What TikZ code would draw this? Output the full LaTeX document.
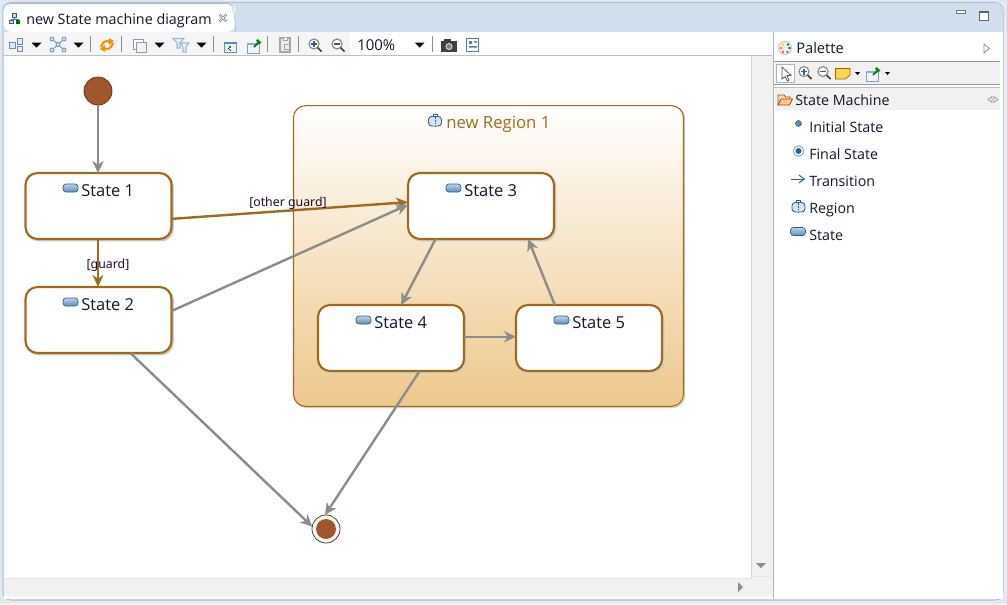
\documentclass[tikz,border=0pt]{standalone}
\usepackage{fontspec}
\setmainfont{Open Sans}
\newfontfamily\lblfont{Noto Sans}
\usetikzlibrary{arrows.meta,shadings}
\definecolor{brownline}{HTML}{A06A1C}
\definecolor{brownfill}{HTML}{A0572B}
\definecolor{brownedge}{HTML}{6E3310}
\definecolor{grayline}{HTML}{8C8C8C}
\definecolor{tabblue}{HTML}{CFDFEE}
\definecolor{winedge}{HTML}{B4BCCB}
\definecolor{barbg}{HTML}{F5F5F5}
\definecolor{scrollbg}{HTML}{F1F1F1}
\definecolor{regionbot}{HTML}{EEC88C}
\definecolor{icoblue}{HTML}{5B8DB8}
\definecolor{icodark}{HTML}{2F5F8F}
\definecolor{textdark}{HTML}{101828}
\definecolor{guardtxt}{HTML}{200830}
\newcommand{\fs}[1]{\fontsize{#1}{#1}\selectfont}
\tikzset{
  x=0.75pt,y=-0.75pt,
  statebox/.style={draw=brownline,line width=1.6pt,rounded corners=9pt,fill=white,
    minimum width=109.5pt,minimum height=49.5pt,inner sep=0pt,outer sep=0pt,
    preaction={draw=black!20,line width=1.5pt,transform canvas={xshift=1.1pt,yshift=-1.1pt}}},
  regionbox/.style={draw=brownline,line width=0.8pt,rounded corners=9pt,
    top color=white,bottom color=regionbot,minimum width=292.5pt,minimum height=225.5pt,inner sep=0pt,outer sep=0pt,
    preaction={draw=black!20,line width=0.8pt,transform canvas={xshift=0.9pt,yshift=-0.9pt}}},
  initstate/.style={circle,draw=brownedge,line width=0.6pt,fill=brownfill,minimum size=21pt,inner sep=0pt,outer sep=0pt},
  finalstate/.style={circle,draw=brownedge,line width=0.6pt,fill=white,minimum size=21pt,inner sep=0pt,outer sep=0pt},
  finaldot/.style={circle,draw=none,fill=brownfill,minimum size=15pt,inner sep=0pt},
  trans/.style={draw=grayline,line width=1.8pt,-{Stealth[length=9pt,width=8.5pt,inset=2.8pt]}},
  guardtrans/.style={draw=brownline,line width=1.8pt,-{Stealth[length=9pt,width=8pt,inset=2.8pt]}},
  titletext/.style={font=\fs{12.35},text=textdark,anchor=base west,inner sep=0pt},
  regiontext/.style={font=\fs{12.55},text=brownline,anchor=base west,inner sep=0pt},
  guardtext/.style={font=\lblfont\fs{9.25},text=guardtxt,inner sep=0pt},
  uitext/.style={font=\fs{10.7},text=textdark,anchor=base west,inner sep=0pt},
  sep/.style={draw=black!45,line width=0.6pt},
  stateicon/.pic={
    \draw[icodark,line width=0.5pt,rounded corners=2.2pt,top color=white!60!icoblue,bottom color=icoblue] (-7.5,-4) rectangle (7.5,4);
  },
  regionicon/.pic={
    \draw[icodark,line width=0.7pt,rounded corners=2.4pt,fill=icoblue!25] (-6.5,-4.5) rectangle (6.5,5);
    \draw[icodark,line width=0.6pt] (-2,-4.5) -- (-2,-6.5) -- (2,-6.5) -- (2,-4.5);
    \draw[icodark,line width=0.6pt,dash pattern=on 1.2pt off 1pt] (0,-4) -- (0,5);
  },
  dropdown/.pic={\fill[black] (-5,-2.5) -- (5,-2.5) -- (0,2.5) -- cycle;},
  zoomicon/.pic={
    \draw[black!45,line width=0.9pt,fill=white] (0,0) circle (5);
    \draw[black!55!brown,line width=1.3pt] (3.6,3.6) -- (7.5,7.5);
  },
  pinicon/.pic={
    \draw[icodark!60,line width=0.6pt,fill=icoblue!10] (-7,-3) rectangle (5,7);
    \fill[icoblue!70] (-7,-3) rectangle (5,-1.5);
    \draw[green!45!black,line width=1.2pt] (0,1) -- (5,-4);
    \fill[green!55!black] (3.5,-7) -- (7.5,-3.5) -- (5.5,-2) -- (2,-5) -- cycle;
  },
}
\begin{document}
\begin{tikzpicture}
\useasboundingbox (0,0) rectangle (1007,604);
% window
\fill[tabblue!65!white] (0,0) rectangle (1007,604);
\draw[winedge,line width=0.8pt,rounded corners=6pt,fill=white] (3,2.5) rectangle (1003,600);
\fill[tabblue,rounded corners=6pt] (3,3) -- (3,40) -- (1003,40) -- (1003,3) -- cycle;
\fill[white] (3.5,32) rectangle (1002.5,599);
\fill[white,rounded corners=6pt] (3.5,32) -- (3.5,4) -- (232,4) .. controls (234,6) and (235,10) .. (235,14) -- (235,32) -- cycle;
\draw[winedge,line width=0.5pt] (3.5,10) .. controls (3.5,5) and (5,3.5) .. (10,3.5) -- (227,3.5) .. controls (232,3.5) and (235,8) .. (235.5,31.5);
% tab
\node[titletext,font=\fs{10.75}] (tabtitle) at (26,24) {new State machine diagram};
\draw[icodark,line width=0.6pt,fill=icoblue!30] (12.5,13.5) rectangle (16,17);
\draw[icodark,line width=0.6pt,fill=icoblue!30] (9.5,20.5) rectangle (13,23);
\draw[green!40!black,line width=0.6pt,fill=green!50!black] (16,20.5) rectangle (19.5,23);
\draw[black!60,line width=0.5pt] (14,17) -- (14,19) (11,20.5) -- (11,19) -- (18,19) -- (18,20.5);
\draw[black!45,line width=1.6pt] (219.5,14.5) -- (226.5,21.5) (226.5,14.5) -- (219.5,21.5);
\draw[white,line width=0.5pt] (219.5,14.5) -- (226.5,21.5) (226.5,14.5) -- (219.5,21.5);
% window buttons
\draw[black!55,fill=white,line width=0.5pt] (956,10.5) rectangle (965,13.5);
\draw[black!60,fill=white,line width=0.6pt] (979,11) rectangle (988,20);
\draw[black!60,line width=1.3pt] (979,12) -- (988,12);
% toolbar
\fill[barbg] (4,32) rectangle (350,55);
\draw[black!25,line width=0.5pt] (4,55.5) -- (772,55.5);
\foreach \sx in {90.5,121.5,213.5,267.5,298.5,432.5}{\draw[sep] (\sx,36) -- (\sx,52);}
\foreach \dx in {36.5,78.5,159.5,201.5,419.5}{\pic at (\dx,45) {dropdown};}
% tool icons
\draw[icodark!70,line width=0.6pt,fill=icoblue!15] (9.5,42) rectangle (15,48);
\draw[icodark!70,line width=0.6pt,fill=icoblue!15] (17,38.5) rectangle (22.5,44);
\draw[icodark!70,line width=0.6pt,fill=icoblue!15] (17,46) rectangle (22.5,51.5);
\draw[icodark!70,line width=0.6pt] (52,39) -- (64,50) (64,39) -- (52,50);
\foreach \ix/\iy in {52/39,64/39,58/44.5,52/50,64/50}{\draw[icodark!70,line width=0.6pt,fill=icoblue!25] (\ix,\iy) circle (2);}
\draw[orange!90!yellow,line width=1.5pt] (101,47) .. controls (103,41) and (106,40) .. (110,42);
\draw[orange!90!yellow,line width=1.5pt] (113,43) .. controls (111,49) and (108,50) .. (104,48);
\fill[orange!90!yellow] (109,38) -- (114,41) -- (109,45) -- cycle (105,45) -- (100,49) -- (105,52) -- cycle;
\draw[black!40,line width=0.7pt,fill=white] (133,39) rectangle (143,49);
\draw[icodark!60,line width=0.7pt,fill=icoblue!10] (136,42) rectangle (146,52);
\draw[icoblue!60,line width=0.8pt,fill=icoblue!15] (173,38.5) -- (184,38.5) -- (180,43) -- (180,48) -- (177,48) -- (177,43) -- cycle;
\draw[icoblue!60,line width=0.8pt,fill=icoblue!15] (180,43) -- (189,43) -- (186,47) -- (186,52) -- (183,52) -- (183,47) -- cycle;
\draw[icodark!70,line width=0.6pt,fill=icoblue!12] (224,42) rectangle (236,52);
\fill[icoblue] (224,42) rectangle (236,44);
\fill[green!60!black] (229,46) rectangle (231,48);
\draw[black,line width=0.5pt] (228,48) -- (231,51);
\pic at (254,46) {pinicon};
\draw[black!35,line width=0.8pt,fill=black!8] (280,38) rectangle (290,52);
\draw[black!35,line width=0.7pt,fill=white] (283,37) rectangle (287,40);
\draw[black!35,line width=0.6pt] (284,44) rectangle (289,49);
\pic at (314,44) {zoomicon};
\draw[icodark,line width=1.1pt] (311,44) -- (317,44) (314,41) -- (314,47);
\pic at (337,44) {zoomicon};
\draw[icodark,line width=1.1pt] (334,44) -- (340,44);
\node[uitext,font=\fs{11.2}] (zoomval) at (357,50) {100\%};
\fill[black!75] (441,41) rectangle (457,52);
\fill[black!75] (444,39) rectangle (451,42);
\draw[black!15,line width=0.7pt,fill=black!50] (449,46.5) circle (3);
\draw[icoblue!90!black,line width=0.8pt,fill=white] (466.5,38.5) rectangle (478.5,51.5);
\fill[icoblue!90!black] (469,41) rectangle (472,44) (474,41) rectangle (477,42.5) (469,46) rectangle (477,47.5);
% palette
\draw[black!30,line width=0.7pt] (773.5,32) -- (773.5,599);
\draw[black!15,line width=0.5pt] (751.5,56) -- (751.5,578);
\fill[scrollbg] (752,56) rectangle (772.5,596);
\fill[scrollbg] (4,578) rectangle (772.5,596);
\draw[black!10,line width=0.5pt] (4,578) -- (751.5,578) (752,576.5) -- (772,576.5);
\fill[black!45] (756,563) -- (766,563) -- (761,568) -- cycle;
\fill[black!45] (738,582) -- (743,587) -- (738,592) -- cycle;
\fill[scrollbg] (775,62) rectangle (1000,85);
\draw[black!40,line width=0.7pt] (774,61.5) -- (1000,61.5);
\draw[black!40,line width=0.7pt] (774,84.5) -- (1000,84.5);
\draw[black!25,line width=0.5pt] (774,87) -- (1000,87);
\fill[scrollbg] (775,88) rectangle (1000,110);
% palette title icon
\draw[black!25,line width=0.5pt,fill=black!6] (785,48) circle (6.7);
\fill[yellow!80!orange] (783,44.5) circle (1.4);\fill[green!60!black] (788,44.5) circle (1.4);
\fill[orange] (781,48) circle (1.4);\fill[green!50!black] (789.5,48) circle (1.4);
\fill[red!70] (783,52) circle (1.4);\fill[blue!60] (787.5,52) circle (1.4);
\node[uitext,font=\fs{11}] (paltitle) at (796,53.5) {Palette};
\draw[black!45,line width=0.6pt,fill=white] (984,44) -- (989.5,48.5) -- (984,53) -- cycle;
% palette tools
\draw[black!30,line width=0.6pt,fill=white] (776.5,64.5) rectangle (794,82);
\draw[black!65,line width=0.6pt,fill=white] (782,67) -- (782,79) -- (785,76.5) -- (787.5,81) -- (789,80) -- (787,75.5) -- (791,75.5) -- cycle;
\pic at (804,71.5) {zoomicon};
\draw[icodark,line width=1.1pt] (801,71.5) -- (807,71.5) (804,68.5) -- (804,74.5);
\pic at (823,71.5) {zoomicon};
\draw[icodark,line width=1.1pt] (820,71.5) -- (826,71.5);
\draw[orange!70!black,line width=0.5pt,fill=yellow!60!orange!70!white] (835.5,68.5) -- (850,68.5) -- (850,75) -- (845.5,79) -- (835.5,79) -- cycle;
\fill[black] (855,72) -- (860,72) -- (857.5,75) -- cycle;
\pic at (873,74) {pinicon};
\fill[black] (885,72) -- (890,72) -- (887.5,75) -- cycle;
% palette drawer
\draw[orange!60!black,line width=0.6pt,fill=orange!30] (778,105) -- (778,95) -- (784,95) -- (785.5,97) -- (790,97) -- (790,99);
\draw[orange!60!black,line width=0.6pt,fill=orange!45] (778,105) -- (781,99) -- (792.5,99) -- (789.5,105) -- cycle;
\node[uitext] (drawer) at (795,105) {State Machine};
\draw[black!40,line width=0.5pt] (988,99.5) -- (992,96.5) -- (992,102.5) -- cycle (998,99.5) -- (994,96.5) -- (994,102.5) -- cycle;
\node[uitext] (pinit) at (809,132) {Initial State};
\node[uitext] (pfinal) at (809,159) {Final State};
\node[uitext] (ptrans) at (809,186) {Transition};
\node[uitext] (pregion) at (809,213) {Region};
\node[uitext] (pstate) at (809,240) {State};
\fill[icoblue,draw=icodark,line width=0.4pt] (798.5,123.5) circle (3);
\draw[icoblue!70,line width=0.8pt,fill=white] (798.5,151) circle (5.2);
\fill[icodark] (798.5,151) circle (3);
\draw[icodark,line width=0.7pt,-{Straight Barb[length=4pt,width=6pt]}] (791,179) -- (805,179);
\pic at (798.5,207) {regionicon};
\pic at (798,231.5) {stateicon};
% diagram
\node[regionbox] (region) at (488.5,256) {};
\node[regiontext] (regiontitle) at (446,128) {new Region 1};
\pic at (435,121) {regionicon};
\node[statebox] (s1) at (98.5,206) {};
\node[statebox] (s2) at (98.5,320) {};
\node[statebox] (s3) at (481,206) {};
\node[statebox] (s4) at (391,338) {};
\node[statebox] (s5) at (589,338) {};
\node[initstate] (init) at (98,91) {};
\node[finalstate] (final) at (326,529) {};
\node[finaldot] (finalin) at (326,529) {};
\foreach \n/\lx/\ly/\t in {s1/81/196/State 1,s2/81/310/State 2,s3/464/196/State 3,s4/374/328/State 4,s5/572/328/State 5}{
  \node[titletext] (\n title) at (\lx,\ly) {\t};
  \pic at (\lx-10.5,\ly-8) {stateicon};
}
% connectors
\draw[trans] (init) -- (s1.north -| init);
\draw[guardtrans] (s1.south -| init) -- (s2.north -| init);
\draw[guardtrans] (s1.-10.7) -- (s3.177.6);
\draw[trans] (s2.7.7) -- (s3.179);
\draw[trans] (s3.216.9) -- (s4.73.6);
\draw[trans] (s4.1) -- (s5.179);
\draw[trans] (s5.136.7) -- (s3.-35.8);
\draw[trans] (s4.-49.7) -- (final.94);
\draw[trans] (s2.-46.8) -- (final.170);
\node[guardtext] (g1) at (288,203) {[other guard]};
\node[guardtext] (g2) at (108,265) {[guard]};
\end{tikzpicture}
\end{document}
